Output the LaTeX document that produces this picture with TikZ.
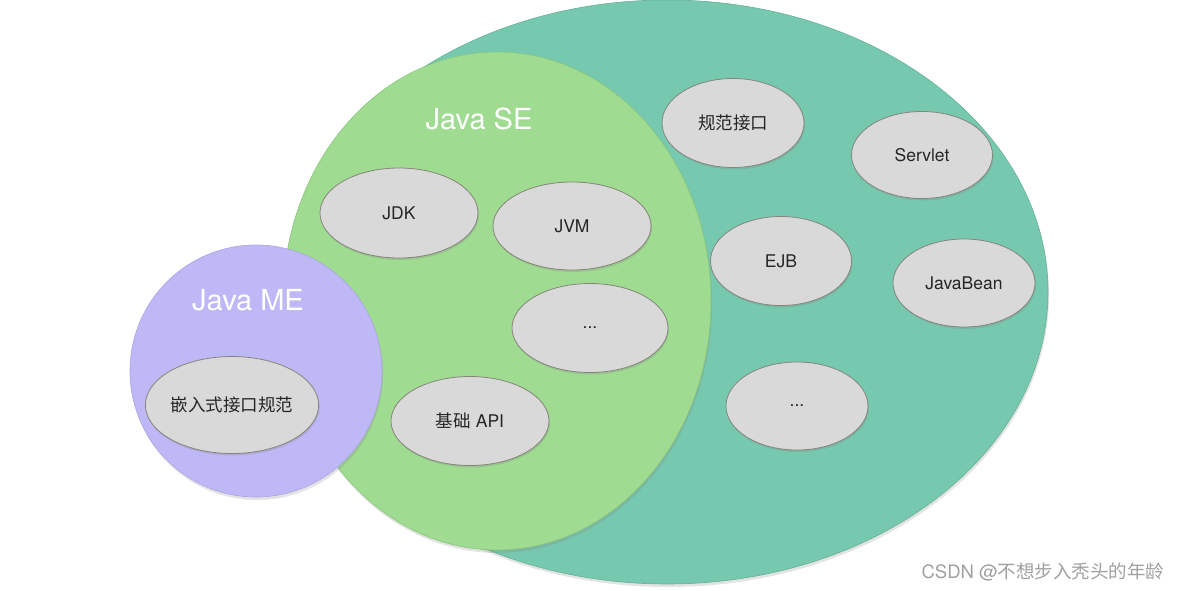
\documentclass[tikz,border=0pt]{standalone}
\usepackage{fontspec}
\setmainfont{TeX Gyre Heros}
\newfontfamily\cjk{Noto Sans CJK SC}
\usetikzlibrary{shapes.geometric,shadows}
\definecolor{teal1}{HTML}{76C9AF}
\definecolor{tealline}{HTML}{66B098}
\definecolor{green1}{HTML}{9FDC91}
\definecolor{greenline}{HTML}{8AC47D}
\definecolor{purple1}{HTML}{BFB8F7}
\definecolor{purpleline}{HTML}{ABA3E2}
\definecolor{gray1}{HTML}{D9D9D9}
\definecolor{grayline}{HTML}{85857A}
\definecolor{wmark}{HTML}{A0A0A0}
\tikzset{
  bigshape/.style={ellipse, inner sep=0pt, line width=0.6pt,
    drop shadow={opacity=0.22, shadow xshift=1pt, shadow yshift=-3pt}},
  item/.style={ellipse, inner sep=0pt, fill=gray1, draw=grayline, line width=0.8pt,
    font=\fontsize{17.5}{20}\selectfont, text=black!85,
    drop shadow={opacity=0.25, shadow xshift=1pt, shadow yshift=-2pt}},
  title/.style={anchor=base, text=white, font=\fontsize{29}{34}\selectfont}
}
\begin{document}
\begin{tikzpicture}[x=1pt,y=-1pt]
\useasboundingbox (0,0) rectangle (1183,591);
\node[bigshape, fill=teal1, draw=tealline, minimum width=762pt, minimum height=584pt] (ee) at (667,292) {};
\node[bigshape, fill=green1, draw=greenline, minimum width=428pt, minimum height=498pt] (se) at (497,301) {};
\node[bigshape, fill=purple1, draw=purpleline, minimum width=252pt, minimum height=252pt] (me) at (256,371) {};
\node[title] (setitle) at (479,130) {Java SE};
\node[title] (metitle) at (248,310) {Java ME};
\node[item, minimum width=158pt, minimum height=90pt] (jdk) at (399,213) {JDK};
\node[item, minimum width=158pt, minimum height=88pt] (jvm) at (572,226) {JVM};
\node[item, minimum width=156pt, minimum height=89pt] (sedots) at (590,328) {...};
\node[item, minimum width=158pt, minimum height=89pt] (api) at (470,421) {{\cjk 基础} API};
\node[item, minimum width=146pt, minimum height=97pt] (embed) at (232,405) {\cjk 嵌入式接口规范};
\node[item, minimum width=142pt, minimum height=89pt] (spec) at (733,123) {\cjk 规范接口};
\node[item, minimum width=141pt, minimum height=87pt] (servlet) at (922,155) {Servlet};
\node[item, minimum width=141pt, minimum height=89pt] (ejb) at (781,261) {EJB};
\node[item, minimum width=142pt, minimum height=88pt] (bean) at (964,283) {JavaBean};
\node[item, minimum width=142pt, minimum height=88pt] (eedots) at (797,406) {...};
\node[text=wmark, font=\fontsize{18.5}{22}\selectfont] (wm) at (1043,572) {CSDN @{\cjk 不想步入秃头的年龄}};
\end{tikzpicture}
\end{document}
